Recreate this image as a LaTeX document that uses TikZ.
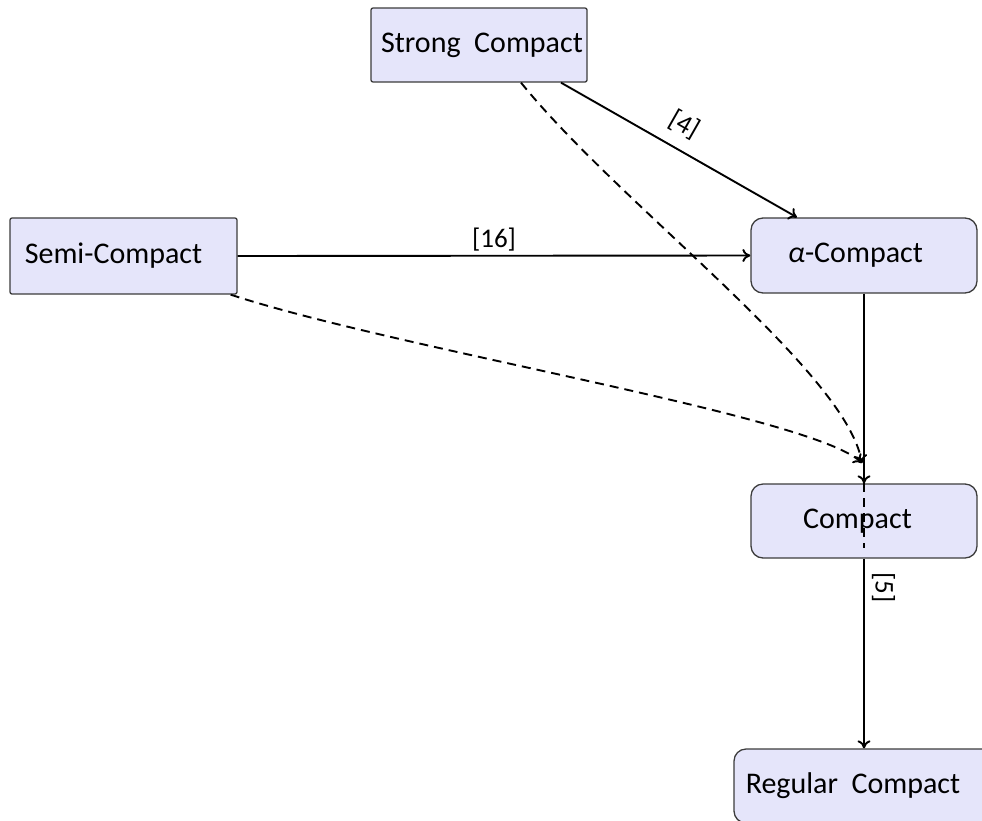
\documentclass[tikz,border=0pt]{standalone}
\usepackage{fontspec}
\setmainfont{Carlito}
\usetikzlibrary{arrows.meta}
\definecolor{boxfill}{RGB}{229,229,250}
\definecolor{boxline}{RGB}{60,60,60}
\tikzset{
  box/.style={draw=boxline, line width=1.3pt, fill=boxfill, inner sep=0pt,
    font=\fontsize{30}{36}\selectfont},
  sqbox/.style={box, rounded corners=2pt},
  rdbox/.style={box, rounded corners=12pt},
  conn/.style={line width=1.9pt, -{To[length=8pt,width=13pt]}},
  dconn/.style={line width=1.9pt, dash pattern=on 9pt off 6pt, -{To[length=8pt,width=13pt]}},
  dline/.style={line width=1.9pt, dash pattern=on 9pt off 6pt},
  lab/.style={font=\fontsize{27}{32}\selectfont, inner sep=0pt}
}
\begin{document}
\begin{tikzpicture}[x=1pt, y=-1pt]
\useasboundingbox (0,0) rectangle (982,820);
\node[sqbox, minimum width=216pt, minimum height=74pt] (strong) at (479,45) {\hspace*{6pt}Strong\ \ Compact};
\node[sqbox, minimum width=227pt, minimum height=76pt] (semi) at (123.5,256) {Semi-Compact\hspace*{20pt}};
\node[rdbox, minimum width=226pt, minimum height=75pt] (alpha) at (864,255.5) {{\itshape α}-Compact\hspace*{17pt}};
\node[rdbox, minimum width=226pt, minimum height=74pt] (compact) at (864,521) {Compact\hspace*{13pt}};
\node[rdbox, minimum width=260pt, minimum height=74pt] (regular) at (864,786) {Regular\ \ Compact\hspace*{22pt}};
\coordinate (meet) at (862,463);
\coordinate (dend) at (864,548);

\draw[conn] ([xshift=82pt]strong.south) -- node[lab, pos=0.47, sloped, above=12pt] {[4]} ([xshift=-67pt]alpha.north);
\draw[conn] (semi.east) -- node[lab, midway, above=4pt] {[16]} (alpha.west);
\draw[conn] (alpha.south) -- (compact.north);
\draw[conn] (compact.south) -- node[lab, pos=0.153, sloped, above=7pt] {[5]} (regular.north);

\draw[dconn] ([xshift=42pt]strong.south) .. controls (620,205) and (845,370) .. (meet);
\draw[dconn] ([xshift=-7pt]semi.south east) .. controls (400,350) and (810,415) .. (meet);
\draw[dline] (compact.north) -- (dend);
\end{tikzpicture}
\end{document}
